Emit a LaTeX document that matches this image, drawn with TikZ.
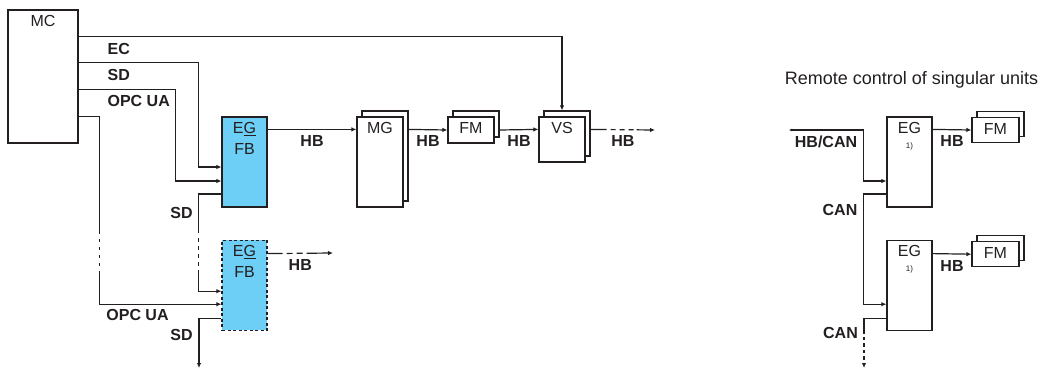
\documentclass[tikz,border=0pt]{standalone}
\usepackage{fontspec}
\setmainfont{Liberation Sans}
\usetikzlibrary{positioning,calc,arrows.meta,shadows}
\definecolor{ink}{HTML}{231F20}
\definecolor{egblue}{HTML}{6DCFF6}

\begin{document}
\begin{tikzpicture}[x=1pt, y=-1pt, line width=1.2pt, draw=ink, text=ink,
  font=\fontsize{16}{21}\selectfont,
  unit/.style={draw=ink, fill=white, inner sep=0pt},
  stack/.style={unit, copy shadow={shadow xshift=5pt, shadow yshift=6pt, draw=ink, fill=white, line width=1.2pt}},
  eg box/.style={unit, fill=egblue, minimum width=45pt, minimum height=90pt},
  inner text/.style={anchor=north, inner sep=5.5pt, align=center},
  bus/.style={font=\fontsize{16}{18}\selectfont\bfseries, inner sep=5.5pt},
  arr/.style={-{Latex[length=5pt,width=4.5pt]}},
  gap/.style={dash pattern=on #1 off 5pt on 3.5pt off 4.5pt on 3.5pt off 4.5pt on 3.5pt off 4.5pt on 3.5pt off 4.5pt on 400pt}]
  \useasboundingbox (0,0) rectangle (1041,369);

  % control side
  \node[unit, minimum width=70pt, minimum height=133pt, label={[inner text]north:MC}] (mc) at (43,76.5) {};
  \node[eg box, label={[inner text]north:E\underline{G}\\FB}] (eg1) at (244.5,162) {};
  \node[eg box, dash pattern=on 3pt off 2.5pt, below=32pt of eg1, label={[inner text]north:E\underline{G}\\FB}] (eg2) {};
  \node[stack, minimum width=46pt, minimum height=90pt, label={[inner text]north:MG}] (mg) at (380,162) {};
  \node[stack, minimum width=46pt, minimum height=26pt, label={[inner text]north:FM}] (fm) at (471,130) {};
  \node[stack, minimum width=46pt, minimum height=45pt, label={[inner text]north:VS}] (vs) at (562,139.5) {};
  \coordinate (sdout) at (199,368);
  \coordinate (hbout) at (655,130);
  \coordinate (hbout2) at (333,253);

  % remote side
  \node (title) at (911.5,80) {\fontsize{18}{20}\selectfont Remote control of singular units};
  \node[unit, minimum width=45pt, minimum height=90pt, label={[inner text]north:{EG\\[-6pt]{\fontsize{8}{9}\selectfont 1)}}}] (egr1) at (909.5,162) {};
  \node[unit, minimum width=45pt, minimum height=90pt, below=32pt of egr1, label={[inner text]north:{EG\\[-6pt]{\fontsize{8}{9}\selectfont 1)}}}] (egr2) {};
  \node[stack, minimum width=47pt, minimum height=25pt, label={[inner text]north:FM}] (fmr1) at (995.5,130) {};
  \node[stack, minimum width=47pt, minimum height=25pt, below=98pt of fmr1, label={[inner text]north:FM}] (fmr2) {};
  \coordinate (canin) at (789,130);
  \coordinate (canout) at (864,368);

  % buses from MC
  \draw[arr] ($(mc.north east)+(0,27)$) -| ([yshift=6pt]vs.north);
  \draw[arr] ($(mc.north east)+(0,53)$) -| ($(eg1.west)+(-23,5)$) -- ($(eg1.west)+(0,5)$);
  \draw[arr] ($(mc.north east)+(0,80)$) -| ($(eg1.west)+(-46,19)$) -- ($(eg1.west)+(0,19)$);
  \draw[arr, gap=138pt] ($(mc.north east)+(0,107)$) -| ($(eg2.west)+(-122,19)$) -- ($(eg2.west)+(0,19)$);
  \draw[arr, gap=62pt] ($(eg1.west)+(0,32)$) -| ($(eg2.west)+(-23,6)$) -- ($(eg2.west)+(0,6)$);
  \draw[arr] ($(eg2.west)+(0,33)$) -| (sdout);
  \node[bus, anchor=west, inner sep=2pt] (ec) at (105,49) {EC};
  \node[bus, anchor=west, inner sep=2pt] (sd1) at (105,75) {SD};
  \node[bus, anchor=west, inner sep=2pt] (opc1) at (105,101) {OPC UA};
  \node[bus] (sd2) at (181.5,213) {SD};
  \node[bus] (opc2) at (137.5,315) {OPC UA};
  \node[bus] (sd3) at (181.5,335) {SD};

  % HB chain
  \draw[arr] ($(eg1.north east)+(0,13)$) -- node[bus, below] (hb1) {HB} ($(mg.north west)+(0,13)$);
  \draw[arr] ($(mg.north east)+(5,13)$) -- node[bus, below] (hb2) {HB} (fm.west);
  \draw[arr] ($(fm.east)+(5,0)$) -- node[bus, below] (hb3) {HB} ($(vs.north west)+(0,13)$);
  \draw[arr, dash pattern=on 16pt off 4pt on 5pt off 4pt on 5pt off 4pt on 5pt off 3pt on 60pt] ($(vs.north east)+(5,13)$) -- node[bus, below] (hb4) {HB} (hbout);
  \draw[arr, dash pattern=on 15pt off 4pt on 6pt off 4pt on 6pt off 4pt on 60pt] ($(eg2.north east)+(0,14)$) -- node[bus, below] (hb5) {HB} (hbout2);

  % remote buses
  \draw[{Latex[length=3pt,width=3pt]}-{Latex[length=5pt,width=4.5pt]}] (canin) -| ($(egr1.west)+(-23,19)$) -- ($(egr1.west)+(0,19)$);
  \draw[arr] ($(egr1.west)+(0,32)$) -| ($(egr2.west)+(-23,19)$) -- ($(egr2.west)+(0,19)$);
  \draw[arr, dash pattern=on 38pt off 3pt on 3.5pt off 3pt on 3.5pt off 3pt on 3.5pt off 3pt on 3.5pt off 3pt on 3.5pt off 3pt on 3.5pt off 3pt on 3.5pt off 3pt on 20pt] ($(egr2.west)+(0,33)$) -| (canout);
  \draw[arr] ($(egr1.north east)+(0,13)$) -- node[bus, below] (hb6) {HB} (fmr1.west);
  \draw[arr] ($(egr2.north east)+(0,14)$) -- node[bus, below] (hb7) {HB} (fmr2.west);
  \node[bus] (hbcan) at (826,142) {HB/CAN};
  \node[bus] (can1) at (840,210) {CAN};
  \node[bus] (can2) at (840.5,333) {CAN};
\end{tikzpicture}
\end{document}
